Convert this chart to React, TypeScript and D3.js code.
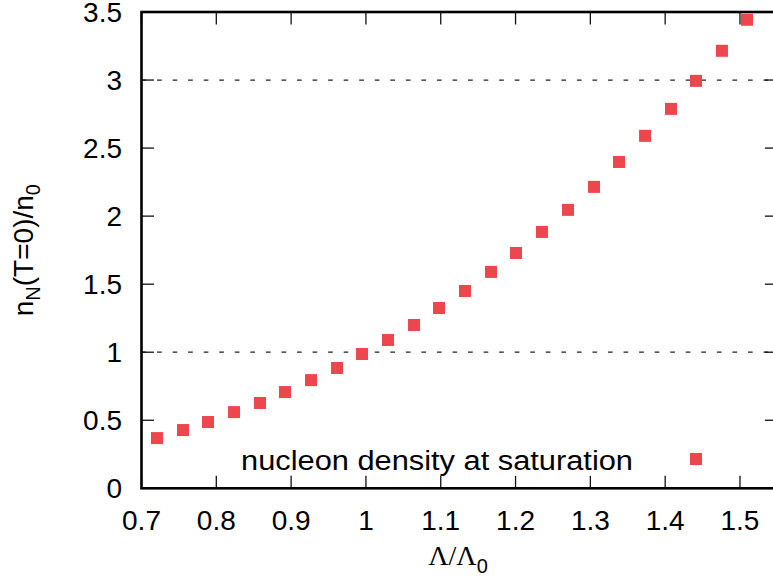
import React from "react";
import * as d3 from "d3";

const lambdaRatio = [0.7207, 0.7555, 0.7889, 0.8237, 0.8584, 0.8918, 0.9266, 0.9614, 0.9948, 1.0295, 1.0643, 1.0977, 1.1324, 1.1672, 1.2006, 1.2353, 1.2701, 1.3049, 1.3383, 1.3731, 1.4078, 1.4412, 1.4759, 1.5094];
const densityRatio = [0.369, 0.428, 0.487, 0.56, 0.627, 0.707, 0.795, 0.884, 0.987, 1.09, 1.2, 1.325, 1.45, 1.59, 1.729, 1.884, 2.046, 2.215, 2.398, 2.59, 2.788, 2.994, 3.215, 3.443];
const xTicks = [0.7, 0.8, 0.9, 1.0, 1.1, 1.2, 1.3, 1.4, 1.5];
const yTicks = [0, 0.5, 1, 1.5, 2, 2.5, 3, 3.5];
const refLines = [1, 3];
const legendLabel = "nucleon density at saturation";

const W = 773, H = 585;
const L = 141.5, T = 12, B = 488.3;
const R = L + 0.85 * 748.1;
const COLOR = "#ed464c";
const FONT = "'Liberation Sans', Arial, Helvetica, sans-serif";

export default function App() {
  const x = d3.scaleLinear().domain([0.7, 1.55]).range([L, R]);
  const y = d3.scaleLinear().domain([0, 3.5]).range([B, T]);
  const fmt = (v: number) => (Number.isInteger(v) ? String(v) : String(+v.toFixed(1)));
  const tl = 12.5;
  const sq = 12;
  return (
    <svg width={W} height={H} style={{ position: "absolute", left: 0, top: 0, background: "#fff" }}>
      <rect x={0} y={0} width={W} height={H} fill="#fff" />
      {refLines.map((v) => (
        <line key={"r" + v} x1={L} x2={R} y1={y(v)} y2={y(v)} stroke="#222" strokeWidth={1.2} strokeDasharray="4.7 10.85" />
      ))}
      {xTicks.map((v) => (
        <g key={"xt" + v}>
          <line x1={x(v)} x2={x(v)} y1={B} y2={B - tl} stroke="#111" strokeWidth={1.3} />
          <line x1={x(v)} x2={x(v)} y1={T} y2={T + tl} stroke="#111" strokeWidth={1.3} />
          <text x={x(v)} y={530} textAnchor="middle" fontFamily={FONT} fontSize={28} fill="#000">{fmt(v)}</text>
        </g>
      ))}
      {yTicks.map((v) => (
        <g key={"yt" + v}>
          <line x1={L} x2={L + tl} y1={y(v)} y2={y(v)} stroke="#111" strokeWidth={1.3} />
          <line x1={R} x2={R - tl} y1={y(v)} y2={y(v)} stroke="#111" strokeWidth={1.3} />
          <text x={122} y={y(v)} dy="0.36em" textAnchor="end" fontFamily={FONT} fontSize={28} fill="#000">{fmt(v)}</text>
        </g>
      ))}
      <rect x={L} y={T} width={R - L} height={B - T} fill="none" stroke="#000" strokeWidth={2.6} />
      {lambdaRatio.map((v, i) => (
        <rect key={"p" + i} x={x(v) - sq / 2} y={y(densityRatio[i]) - sq / 2} width={sq} height={sq} fill={COLOR} />
      ))}
      <g transform="translate(633, 470) scale(1.1, 1)">
        <text x={0} y={0} textAnchor="end" fontFamily={FONT} fontSize={28} fill="#000">{legendLabel}</text>
      </g>
      <rect x={696 - sq / 2} y={459 - sq / 2} width={sq} height={sq} fill={COLOR} />
      <text transform={`translate(33, ${(T + B) / 2}) rotate(-90)`} textAnchor="middle" fontFamily={FONT} fontSize={28} fill="#000">
        <tspan>n</tspan>
        <tspan fontSize={20} dy={7}>N</tspan>
        <tspan dy={-7}>(T=0)/n</tspan>
        <tspan fontSize={20} dy={7}>0</tspan>
      </text>
      <text x={458} y={565} textAnchor="middle" fontFamily="'Liberation Serif', 'Times New Roman', serif" fontSize={28} fill="#000">
        <tspan>Λ/Λ</tspan>
        <tspan fontFamily={FONT} fontSize={20} dy={8}>0</tspan>
      </text>
    </svg>
  );
}
